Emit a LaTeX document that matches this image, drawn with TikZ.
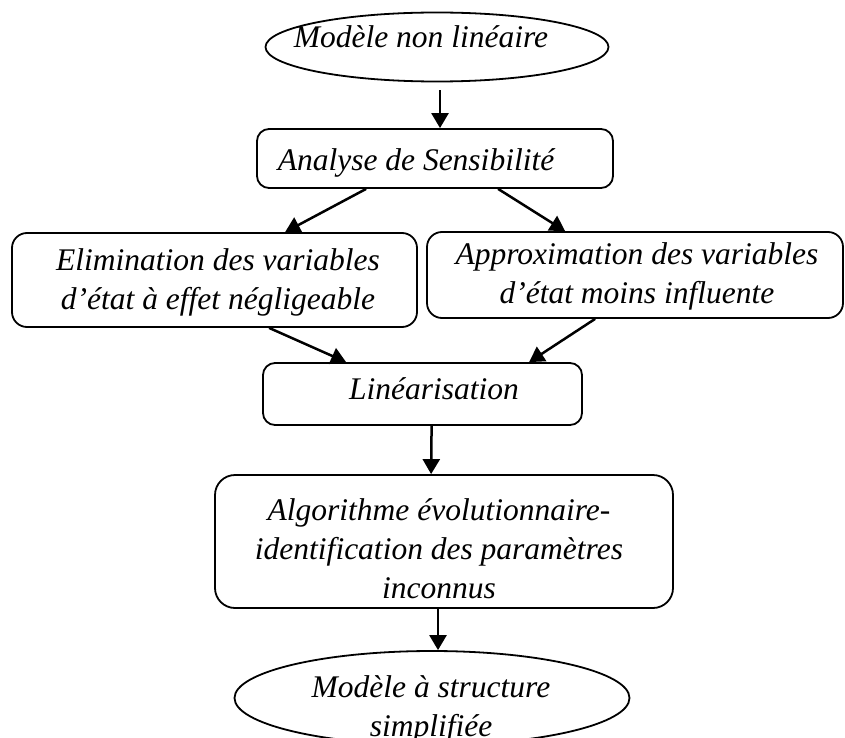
\documentclass[tikz,border=0pt]{standalone}
\usepackage{fontspec}
\setmainfont{Liberation Serif}
\usetikzlibrary{arrows.meta,shapes.geometric}
\begin{document}
\begin{tikzpicture}[x=1pt,y=-1pt,
  txt/.style={font=\itshape\fontsize{31.5}{39}\selectfont, align=center, inner sep=0pt},
  stepbox/.style={draw, line width=1.8pt, rounded corners=12pt, inner sep=0pt},
  oval/.style={draw, ellipse, line width=1.8pt, inner sep=0pt},
  flow/.style={line width=2.5pt, -{Triangle[width=17pt,length=15pt]}}]
\useasboundingbox (0,0) rectangle (845,738);

% start and end of the procedure
\node[oval, minimum width=343pt, minimum height=69pt,
  label={[txt,xshift=-16pt,yshift=10pt]center:Modèle non linéaire}] (top) at (437,47) {};
\node[oval, minimum width=395pt, minimum height=94pt,
  label={[txt,xshift=-1pt,yshift=-11.5pt]center:Modèle à structure\\simplifiée}] (bot) at (432,698) {};

% processing steps
\node[stepbox, minimum width=356pt, minimum height=59pt,
  label={[txt,xshift=-19pt,yshift=-4pt]center:Analyse de Sensibilité}] (ana) at (435,158.5) {};
\node[stepbox, rounded corners=15pt, minimum width=405pt, minimum height=94pt,
  label={[txt,xshift=3.5pt,yshift=-2pt]center:Elimination des variables\\d’état à effet négligeable}] (elim) at (214.5,280) {};
\node[stepbox, rounded corners=15pt, minimum width=416pt, minimum height=86pt,
  label={[txt,xshift=2pt,yshift=-1pt]center:Approximation des variables\\d’état moins influente}] (approx) at (635,275) {};
\node[stepbox, minimum width=319pt, minimum height=62pt,
  label={[txt,xshift=11.5pt,yshift=5pt]center:Linéarisation}] (lin) at (422.5,394) {};
\node[stepbox, rounded corners=20pt, minimum width=458pt, minimum height=133pt,
  label={[txt,xshift=-5pt,yshift=-7pt]center:Algorithme évolutionnaire-\\identification des paramètres\\inconnus}] (algo) at (444,541.5) {};

% connectors
\draw[flow] ([xshift=3pt,yshift=-8pt]top.south) -- ([xshift=5pt]ana.north);
\draw[flow] ([xshift=110pt]ana.south west) -- ([xshift=274pt]elim.north west);
\draw[flow] ([xshift=242pt]ana.south west) -- ([xshift=139pt]approx.north west);
\draw[flow] ([xshift=258pt]elim.south west) -- ([xshift=84pt]lin.north west);
\draw[flow] ([xshift=169pt]approx.south west) -- ([xshift=267pt]lin.north west);
\draw[flow] ([xshift=169.5pt]lin.south west) -- ([xshift=217pt]algo.north west);
\draw[flow] ([xshift=-6pt]algo.south) -- ([xshift=6pt]bot.north);
\end{tikzpicture}
\end{document}
